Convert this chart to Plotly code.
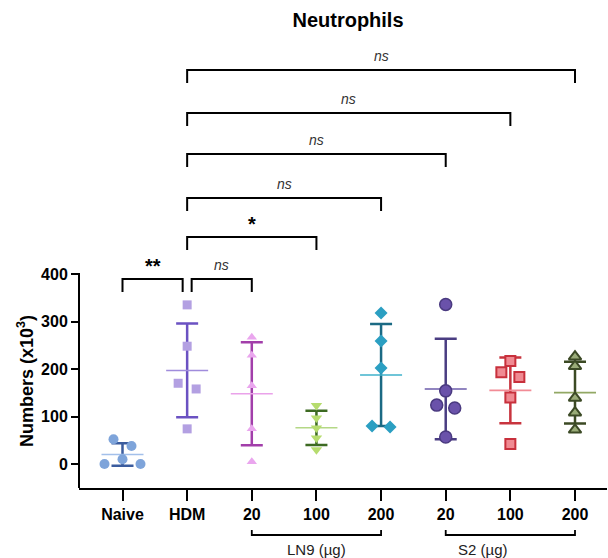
import numpy as np
import plotly.graph_objects as go

# ---------------- data ----------------
categories = ["Naive", "HDM", "20", "100", "200", "20", "100", "200"]
naive = [52, 38, 10, 0, 0]
hdm = [335, 248, 170, 158, 74]
ln9_20 = [267, 229, 165, 74, 5]
ln9_100 = [123, 97, 76, 55, 30]
ln9_200 = [318, 259, 202, 80, 78]
s2_20 = [336, 154, 124, 118, 57]
s2_100 = [217, 193, 183, 140, 42]
s2_200 = [226, 206, 139, 108, 72]
groups = [naive, hdm, ln9_20, ln9_100, ln9_200, s2_20, s2_100, s2_200]

# comparisons: (group a, group b, label)
comparisons = [(0, 1, "**"), (1, 2, "ns"), (1, 3, "*"), (1, 4, "ns"),
               (1, 5, "ns"), (1, 6, "ns"), (1, 7, "ns")]
group_labels = [("LN9 (µg)", 2, 4), ("S2 (µg)", 5, 7)]
yticks = [0, 100, 200, 300, 400]

# ---------------- styles ----------------
styles = [
    dict(symbol="circle", size=10, fill="#7ea4da", edge="#7ea4da", ew=0, err="#3b5c9e", mean="#a3c0ea"),
    dict(symbol="square", size=9, fill="#b3a0e2", edge="#b3a0e2", ew=0, err="#6b52c2", mean="#a08cdc"),
    dict(symbol="triangle-up", size=9, fill="#eaa6ee", edge="#eaa6ee", ew=0, err="#a23eaa", mean="#eaa2ea"),
    dict(symbol="triangle-down", size=10, fill="#b6dc6e", edge="#b6dc6e", ew=0, err="#3d6a22", mean="#b4d886"),
    dict(symbol="diamond", size=10, fill="#2b9fc2", edge="#2b9fc2", ew=0, err="#1b6a84", mean="#3fb2cb"),
    dict(symbol="circle", size=12, fill="#6a52aa", edge="#4a3a80", ew=1.5, err="#4a3d82", mean="#6c5cab"),
    dict(symbol="square", size=10, fill="#f08a92", edge="#c8303c", ew=2, err="#c8343e", mean="#f28c96"),
    dict(symbol="triangle-up", size=11, fill="#9aac78", edge="#3c4a26", ew=2, err="#3c4a24", mean="#92a864"),
]

XMIN, XMAX = -0.673, 7.495
YMIN, YMAX = -50.5, 882.1
ML, MT, MB = 79, 45, 70
PLOT_W = 528
PX_PER_CAT = PLOT_W / (XMAX - XMIN)
PLOT_H = 443
PX_PER_UNIT = PLOT_H / (YMAX - YMIN)
FONT = "Liberation Sans, Arial, sans-serif"


def swarm_offsets(vals, thresh_px=8.0, step_px=9.0):
    """Cluster close values and spread them symmetrically (beeswarm-like)."""
    order = np.argsort(vals, kind="stable")
    offs = np.zeros(len(vals))
    clusters, cur = [], [order[0]]
    for a, b in zip(order[:-1], order[1:]):
        if abs(vals[b] - vals[a]) * PX_PER_UNIT < thresh_px:
            cur.append(b)
        else:
            clusters.append(cur)
            cur = [b]
    clusters.append(cur)
    patterns = {1: [0], 2: [1, -1], 3: [-2, 2, 0]}
    for c in clusters:
        pat = patterns.get(len(c), list(np.linspace(-(len(c) - 1), len(c) - 1, len(c))))
        for idx, p in zip(c, pat):
            offs[idx] = p * step_px / PX_PER_CAT
    return offs


fig = go.Figure()

for i, (vals, st) in enumerate(zip(groups, styles)):
    arr = np.array(vals, dtype=float)
    m = arr.mean()
    sd = arr.std(ddof=1)
    # mean line + SD error bar
    fig.add_trace(go.Scatter(
        x=[i], y=[m], mode="markers",
        marker=dict(symbol="line-ew", size=30, line=dict(color=st["mean"], width=1.6)),
        error_y=dict(type="data", array=[sd], color=st["err"], thickness=2.5, width=11),
        showlegend=False, hoverinfo="skip", cliponaxis=False))
    offs = swarm_offsets(arr)
    fig.add_trace(go.Scatter(
        x=i + offs, y=arr, mode="markers",
        marker=dict(symbol=st["symbol"], size=st["size"], color=st["fill"],
                    line=dict(color=st["edge"], width=st["ew"])),
        showlegend=False, cliponaxis=False))


def xp(x):
    return (x - XMIN) / (XMAX - XMIN)


def yp(v):
    return (v - YMIN) / (YMAX - YMIN)


shapes = []
annotations = []
LINE = dict(color="black", width=2)

# y axis line (only up to 400)
shapes.append(dict(type="line", xref="paper", yref="paper", x0=0, x1=0,
                   y0=0, y1=yp(400) + 1 / PLOT_H, line=LINE))

# y axis title centred on the drawn axis segment
annotations.append(dict(x=(25 - ML) / PLOT_W, y=(yp(YMIN) + yp(400)) / 2, xref="paper", yref="paper",
                        text="<b>Numbers (x10<sup>3</sup>)</b>", textangle=-90, showarrow=False,
                        xanchor="center", yanchor="middle",
                        font=dict(size=18, color="black", family=FONT)))

# significance brackets
bracket_levels = [389.5, 389.5, 478, 560, 652.6, 739, 829.5]
tick_down = 13 / PX_PER_UNIT
gap = 4.5 / PX_PER_CAT
for (a, b, lab), lev in zip(comparisons, bracket_levels):
    xa, xb = a, b
    if b - a == 1 and (a == 0 or b == 2):
        if a == 0:
            xb = b - gap
        else:
            xa = a + gap
    shapes.append(dict(type="path", xref="x", yref="y",
                       path=f"M {xa},{lev - tick_down} L {xa},{lev} L {xb},{lev} L {xb},{lev - tick_down}",
                       line=LINE))
    bold = lab != "ns"
    annotations.append(dict(
        x=(xa + xb) / 2, y=lev + (13 if bold else 14) / PX_PER_UNIT, xref="x", yref="y",
        text=(f"<b>{lab}</b>" if bold else f"<i>{lab}</i>"), showarrow=False,
        yanchor="middle",
        font=dict(size=(20 if bold else 14), color="black" if bold else "#333333",
                  family=FONT)))

# group brackets under the x axis
for lab, a, b in group_labels:
    y_line = yp(YMIN) - 47 / PLOT_H
    y_tick = y_line + 5 / PLOT_H
    shapes.append(dict(type="path", xref="paper", yref="paper",
                       path=f"M {xp(a)},{y_tick} L {xp(a)},{y_line} L {xp(b)},{y_line} L {xp(b)},{y_tick}",
                       line=dict(color="black", width=1.8)))
    annotations.append(dict(x=xp((a + b) / 2), y=y_line - 14 / PLOT_H, xref="paper", yref="paper",
                            text=lab, showarrow=False, yanchor="middle",
                            font=dict(size=15, color="#222222", family=FONT)))

fig.update_layout(
    width=608, height=558,
    margin=dict(l=ML, r=1, t=MT, b=MB),
    paper_bgcolor="white", plot_bgcolor="white",
    font=dict(family=FONT, color="black"),
    title=dict(text="<b>Neutrophils</b>", x=348 / 608, xanchor="center",
               y=1 - 20 / 558, yanchor="middle", font=dict(size=20, color="black")),
    shapes=shapes, annotations=annotations,
    xaxis=dict(range=[XMIN, XMAX], tickmode="array", tickvals=list(range(len(categories))),
               ticktext=[f"<b>{c}</b>" for c in categories], showline=True, linecolor="black",
               linewidth=2, ticks="outside", ticklen=11, tickwidth=2, tickcolor="black",
               showgrid=False, zeroline=False, tickfont=dict(size=16, color="black")),
    yaxis=dict(range=[YMIN, YMAX], tickmode="array", tickvals=yticks,
               ticktext=[f"<b>{t}</b>" for t in yticks], showline=False,
               ticks="outside", ticklen=7, tickwidth=2, tickcolor="black",
               showgrid=False, zeroline=False, tickfont=dict(size=16, color="black")),
)

fig.write_html("out.html")
